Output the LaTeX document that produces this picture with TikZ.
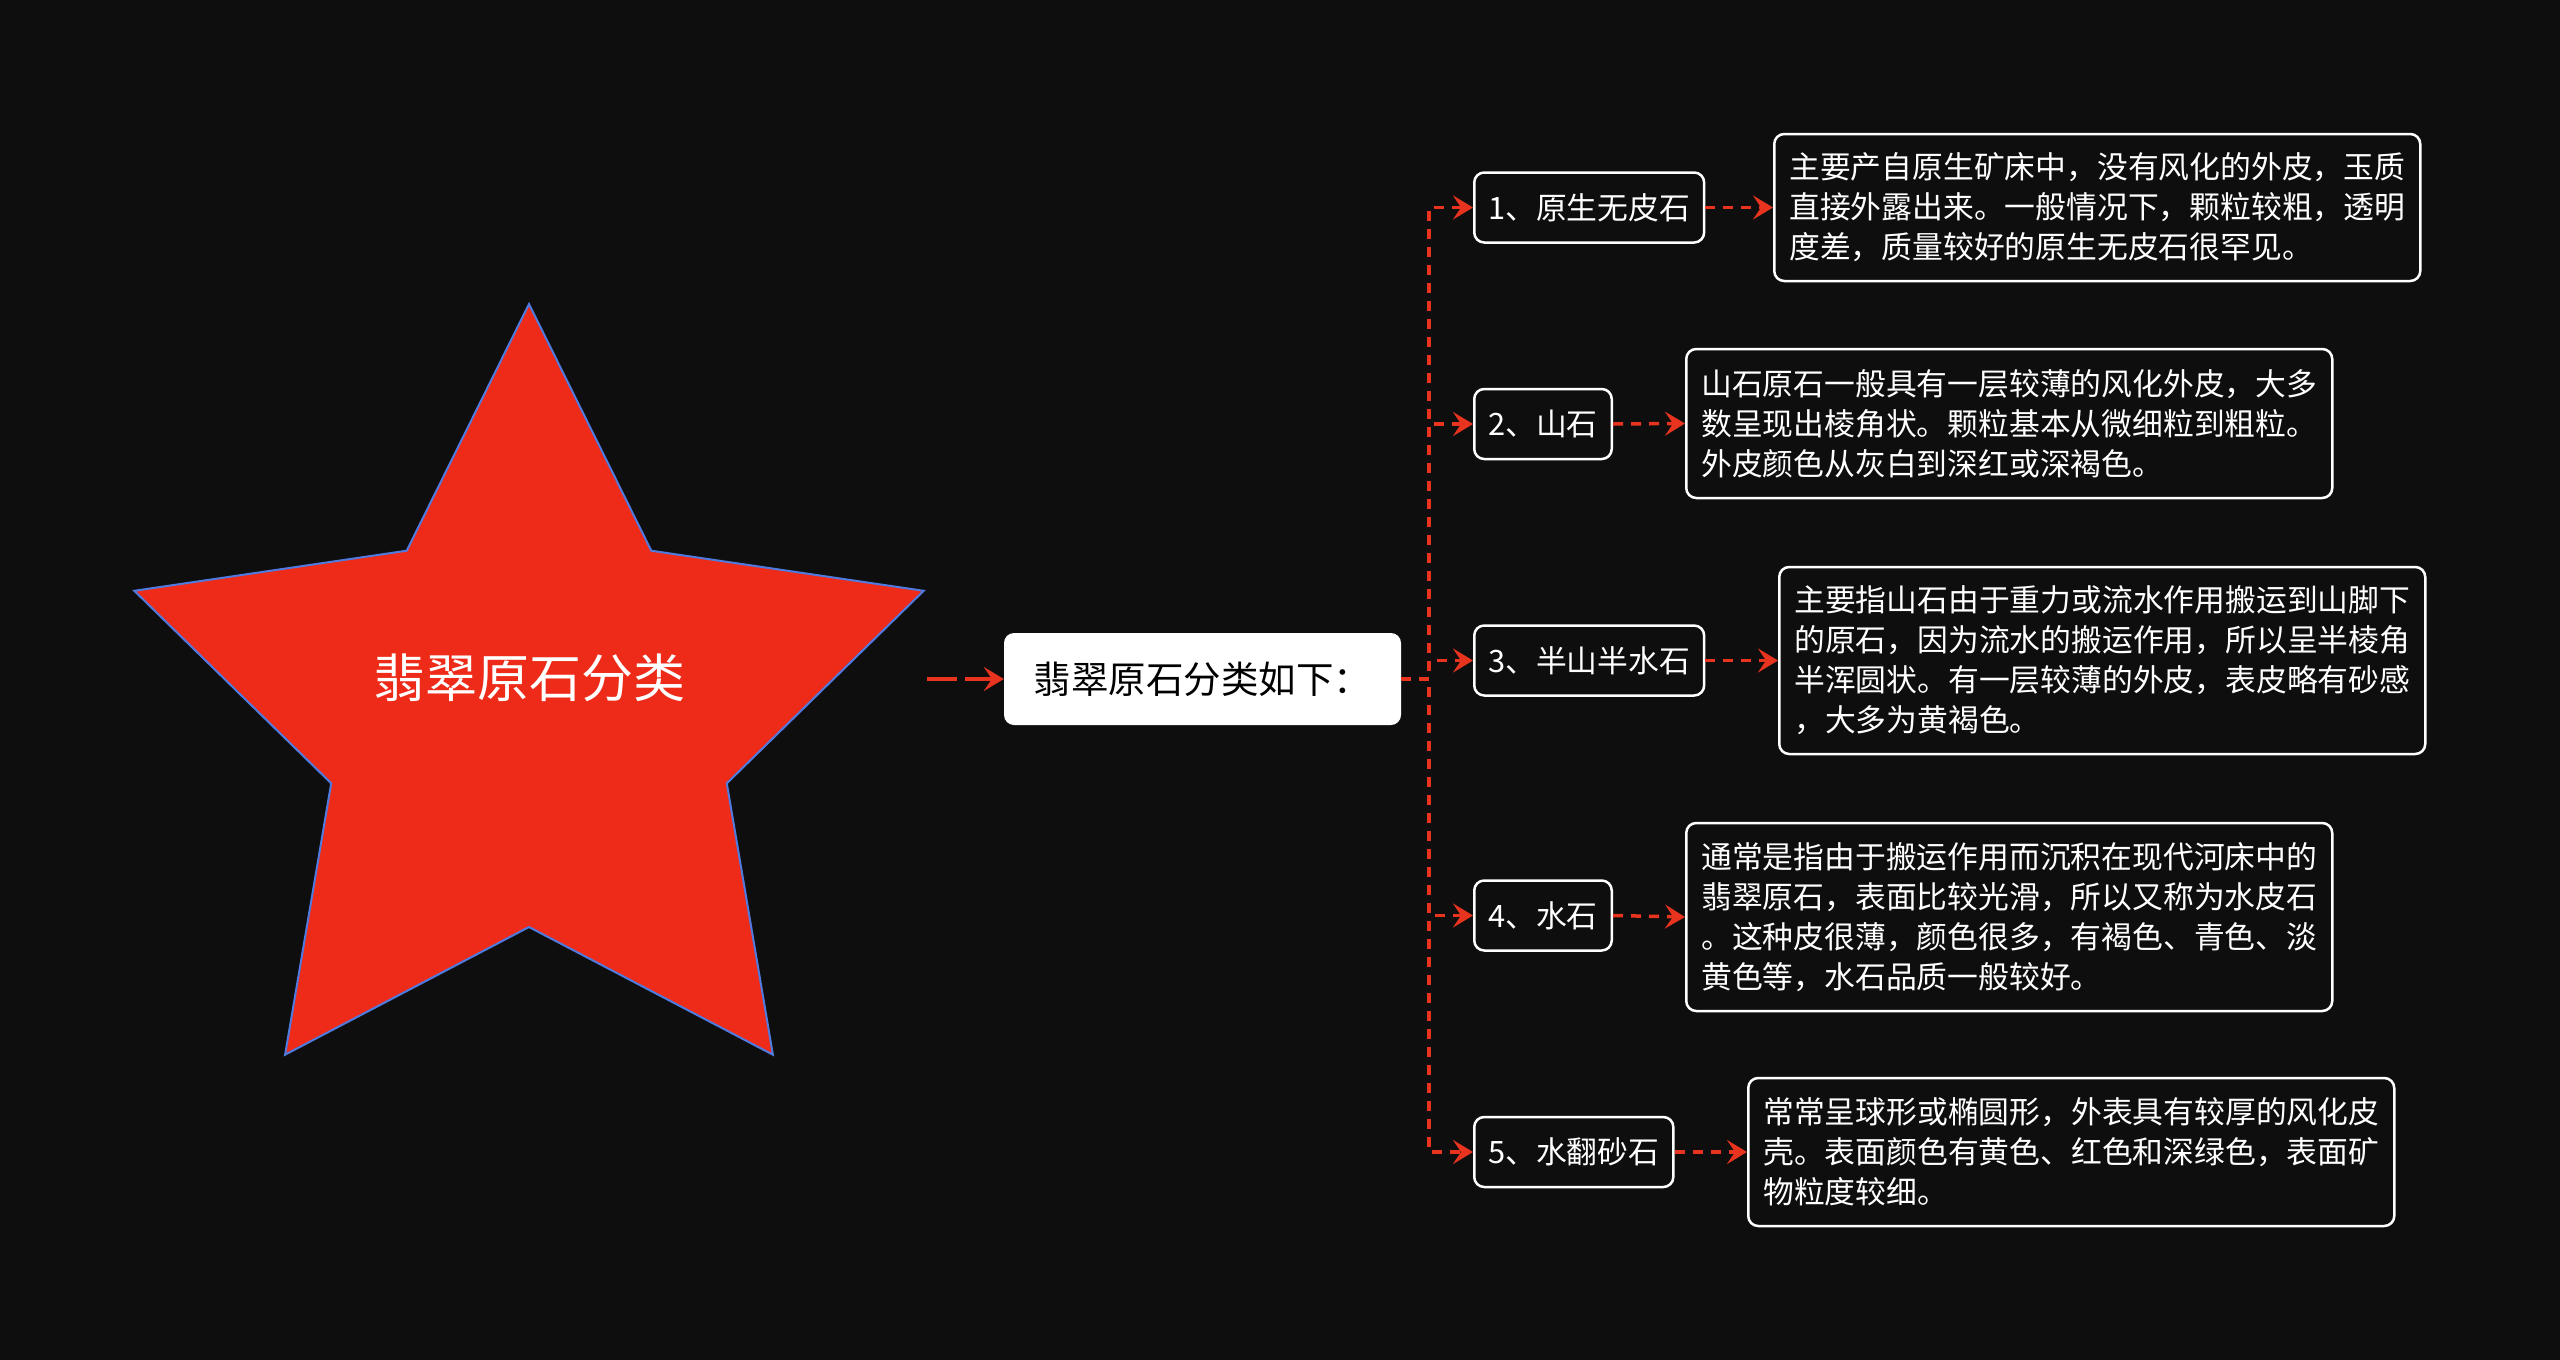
\documentclass[tikz,border=0pt]{standalone}
\usepackage{fontspec}
\setmainfont{Noto Sans CJK SC}
\usetikzlibrary{arrows.meta}
\definecolor{bg}{HTML}{0E0E0E}
\definecolor{lnred}{HTML}{E8341F}
\definecolor{starred}{HTML}{EE2A18}
\definecolor{starblue}{HTML}{4F7BE0}
\begin{document}
\begin{tikzpicture}[x=1pt,y=-1pt,
  conn/.style={draw=lnred, line width=3.5pt, dash pattern=on 10pt off 8pt,
    -{Stealth[length=20pt,width=24pt,inset=8pt,fill=lnred]}},
  item/.style={draw=white, line width=2.5pt, rounded corners=10pt, fill=bg,
    text=white, font=\fontsize{30.8}{40}\selectfont, inner xsep=14pt,
    minimum height=70pt, anchor=west},
  desc/.style={draw=white, line width=2.5pt, rounded corners=10pt, fill=bg,
    text=white, font=\fontsize{30.8}{40}\selectfont, align=left,
    inner xsep=15pt, anchor=west},
  ]
\fill[bg] (0,0) rectangle (2560,1360);
\useasboundingbox (0,0) rectangle (2560,1360);
% star
\draw[fill=starred, draw=starblue, line width=2pt]
  (529,304) -- (651.3,550.7) -- (923.7,590.8) -- (726.8,783.3) -- (772.9,1054.7)
  -- (529,927) -- (285.1,1054.7) -- (331.2,783.3) -- (134.3,590.8) -- (406.7,550.7) -- cycle;
\node[text=white, font=\fontsize{52}{60}\selectfont] (root) at (529,678) {翡翠原石分类};
\coordinate (rootE) at (927,679);
% central
\node[fill=white, rounded corners=10pt, text=black, font=\fontsize{37.5}{45}\selectfont,
  minimum width=397pt, minimum height=92pt, inner xsep=20pt] (c) at (1202.5,679) {翡翠原石分类如下：};
% items
\node[item] (n1) at (1473,207.5) {1、原生无皮石};
\node[item] (n2) at (1473,424) {2、山石};
\node[item] (n3) at (1473,660.5) {3、半山半水石};
\node[item] (n4) at (1473,915.5) {4、水石};
\node[item] (n5) at (1473,1152) {5、水翻砂石};
% descriptions
\node[desc, minimum height=147pt] (d1) at (1773,207.5) {主要产自原生矿床中，没有风化的外皮，玉质\\直接外露出来。一般情况下，颗粒较粗，透明\\度差，质量较好的原生无皮石很罕见。};
\node[desc, minimum height=149pt] (d2) at (1685,423.5) {山石原石一般具有一层较薄的风化外皮，大多\\数呈现出棱角状。颗粒基本从微细粒到粗粒。\\外皮颜色从灰白到深红或深褐色。};
\node[desc, minimum height=187pt] (d3) at (1778,660.5) {主要指山石由于重力或流水作用搬运到山脚下\\的原石，因为流水的搬运作用，所以呈半棱角\\半浑圆状。有一层较薄的外皮，表皮略有砂感\\，大多为黄褐色。};
\node[desc, minimum height=188pt] (d4) at (1685,917) {通常是指由于搬运作用而沉积在现代河床中的\\翡翠原石，表面比较光滑，所以又称为水皮石\\。这种皮很薄，颜色很多，有褐色、青色、淡\\黄色等，水石品质一般较好。};
\node[desc, minimum height=148pt] (d5) at (1747,1152) {常常呈球形或椭圆形，外表具有较厚的风化皮\\壳。表面颜色有黄色、红色和深绿色，表面矿\\物粒度较细。};
% connectors
\draw[conn, line width=4.5pt, dash pattern=on 30pt off 8pt] (rootE) -- (c.west);
\foreach \i in {1,...,5}{
  \draw[conn] (c.east) -- ++(28,0) |- (n\i.west);
  \draw[conn] (n\i.east) -- (d\i.west);
}
\end{tikzpicture}
\end{document}
